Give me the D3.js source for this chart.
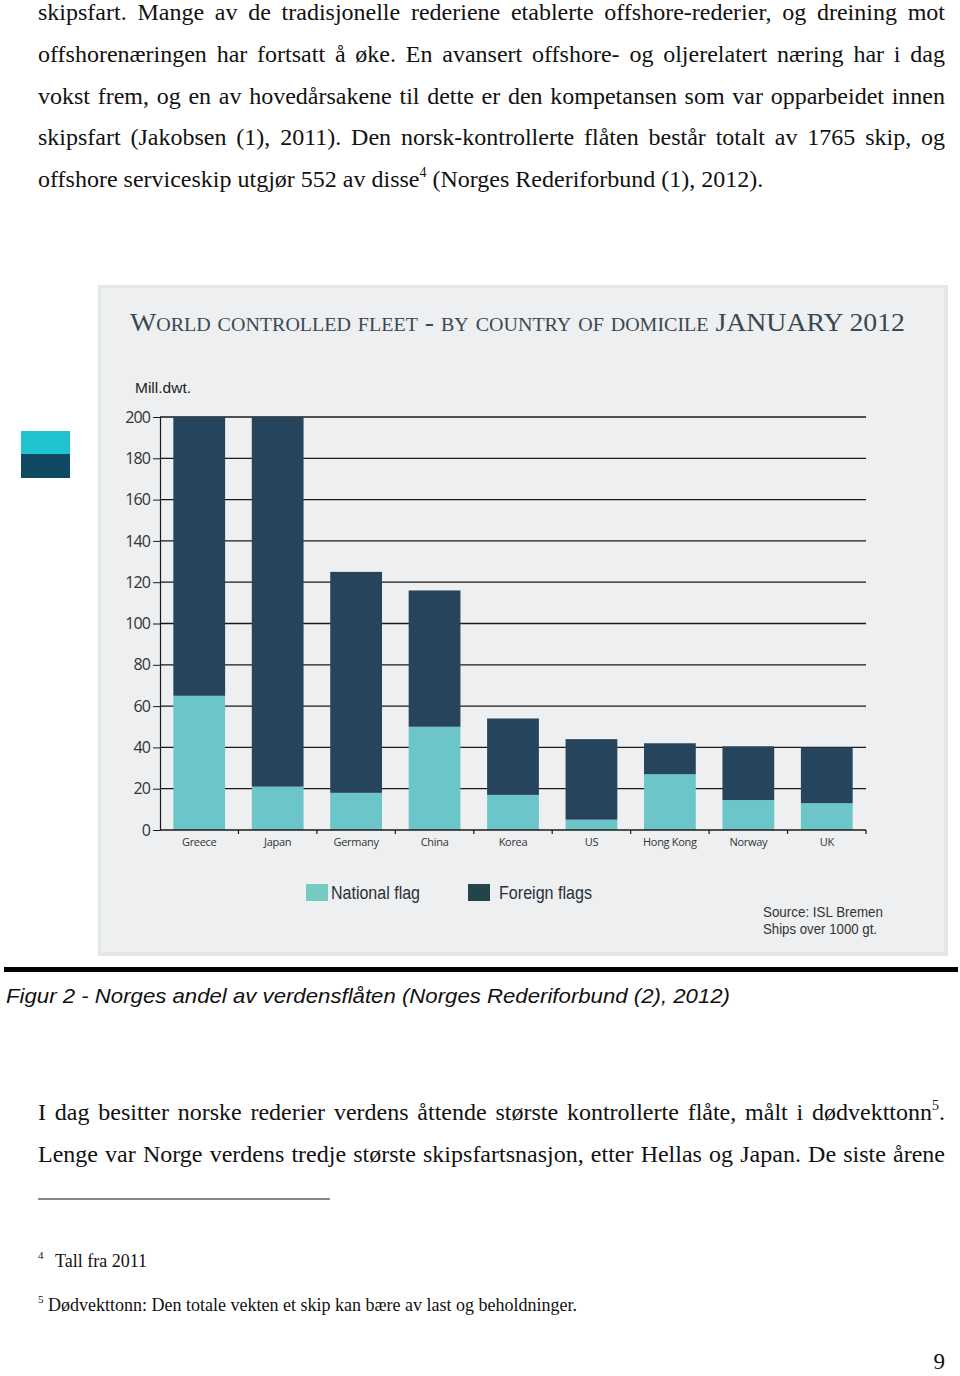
<!DOCTYPE html>
<html>
<head>
<meta charset="utf-8">
<script src="https://cdn.jsdelivr.net/npm/d3@7"></script>
<style>
  body { margin: 0; background: #fff; }
  svg { display: block; }
</style>
</head>
<body>
<div id="page"></div>
<script>
/* global d3 */

// chart values (Mill. dwt)
const countries = ["Greece", "Japan", "Germany", "China", "Korea", "US", "Hong Kong", "Norway", "UK"];
const nationalFlag = [65, 21, 18, 50, 17, 5, 27, 14.5, 13];
const foreignFlags = [135, 179, 107, 66, 37, 39, 15, 26, 27];
const yTicks = [0, 20, 40, 60, 80, 100, 120, 140, 160, 180, 200];
const seriesNames = ["National flag", "Foreign flags"];

const topLines = [
  "skipsfart. Mange av de tradisjonelle rederiene etablerte offshore-rederier, og dreining mot",
  "offshorenæringen har fortsatt å øke. En avansert offshore- og oljerelatert næring har i dag",
  "vokst frem, og en av hovedårsakene til dette er den kompetansen som var opparbeidet innen",
  "skipsfart (Jakobsen (1), 2011). Den norsk-kontrollerte flåten består totalt av 1765 skip, og"
];

const width = 960, height = 1376;
const svg = d3.select("#page").append("svg")
  .attr("width", width)
  .attr("height", height);

const serif = "'Liberation Serif', 'Times New Roman', serif";
const sans = "'Liberation Sans', Arial, sans-serif";
const bodySize = "24px";

// spread the words of a line so it fills the full text width
function justify(sel, w) {
  const node = sel.node();
  const natural = node.getComputedTextLength();
  const spaces = (node.textContent.match(/ /g) || []).length;
  if (spaces > 0) sel.style("word-spacing", ((w - natural) / spaces) + "px");
}

// ---------------- body text above the figure ----------------
topLines.forEach(function(line, i) {
  const t = svg.append("text")
    .attr("x", 38)
    .attr("y", 20 + i * 41.8)
    .style("font-family", serif)
    .style("font-size", bodySize)
    .style("fill", "#111")
    .text(line);
  justify(t, 907);
});

const line5 = svg.append("text")
  .attr("x", 38)
  .attr("y", 187)
  .style("font-family", serif)
  .style("font-size", bodySize)
  .style("fill", "#111");
line5.append("tspan").text("offshore serviceskip utgjør 552 av disse");
line5.append("tspan").attr("dy", -10).style("font-size", "14px").text("4");
line5.append("tspan").attr("dy", 10).text(" (Norges Rederiforbund (1), 2012).");

// ---------------- two stray colour squares at left ----------------
svg.append("rect").attr("x", 21).attr("y", 431).attr("width", 49).attr("height", 23).attr("fill", "#20c3ce");
svg.append("rect").attr("x", 21).attr("y", 454).attr("width", 49).attr("height", 24).attr("fill", "#0e4862");

// ---------------- chart panel ----------------
svg.append("rect")
  .attr("x", 98).attr("y", 285).attr("width", 850).attr("height", 671)
  .attr("fill", "#e4e7e8");
svg.append("rect")
  .attr("x", 101).attr("y", 288).attr("width", 843).attr("height", 664)
  .attr("fill", "#edeff0");

svg.append("text")
  .attr("x", 130)
  .attr("y", 331)
  .attr("textLength", 775)
  .attr("lengthAdjust", "spacingAndGlyphs")
  .style("font-family", serif)
  .style("font-size", "25px")
  .style("font-variant", "small-caps")
  .style("fill", "#3a4853")
  .text("World controlled fleet - by country of domicile JANUARY 2012");

svg.append("text")
  .attr("x", 135)
  .attr("y", 393)
  .attr("textLength", 56)
  .attr("lengthAdjust", "spacingAndGlyphs")
  .style("font-family", sans)
  .style("font-size", "15px")
  .style("fill", "#222")
  .text("Mill.dwt.");

const margin = {left: 160, right: 866, top: 417, bottom: 830};

const x = d3.scaleBand()
  .domain(countries)
  .range([margin.left, margin.right])
  .paddingInner(0.34)
  .paddingOuter(0.17);

const y = d3.scaleLinear()
  .domain([0, 200])
  .range([margin.bottom, margin.top]);

const colors = ["#6cc6c9", "#26445b"];

// gridlines
svg.append("g")
  .selectAll("line")
  .data(yTicks.slice(1))
  .join("line")
  .attr("x1", margin.left)
  .attr("x2", margin.right)
  .attr("y1", d => y(d))
  .attr("y2", d => y(d))
  .attr("stroke", "#1a1a1a")
  .attr("stroke-width", 1.3);

// stacked bars
const table = countries.map((c, i) => ({country: c, national: nationalFlag[i], foreign: foreignFlags[i]}));
const stack = d3.stack().keys(["national", "foreign"]);
const layers = stack(table);

svg.append("g")
  .selectAll("g")
  .data(layers)
  .join("g")
  .attr("fill", (d, i) => colors[i])
  .selectAll("rect")
  .data(d => d)
  .join("rect")
  .attr("x", d => x(d.data.country))
  .attr("width", x.bandwidth())
  .attr("y", d => y(d[1]))
  .attr("height", d => y(d[0]) - y(d[1]));

// y axis
const yAxis = d3.axisLeft(y)
  .tickValues(yTicks)
  .tickSize(7)
  .tickPadding(3);
const yG = svg.append("g")
  .attr("transform", "translate(" + margin.left + ",0)")
  .call(yAxis);
yG.select(".domain").attr("stroke", "#1a1a1a").attr("stroke-width", 1.2);
yG.selectAll(".tick line").attr("stroke", "#1a1a1a");
yG.selectAll(".tick text")
  .style("font-family", "'Open Sans', 'DejaVu Sans', sans-serif")
  .style("font-size", "16px")
  .style("letter-spacing", "-0.9px")
  .style("fill", "#333");

// x axis: baseline with ticks at the band boundaries
const boundaries = d3.range(countries.length + 1).map(i => margin.left + i * (margin.right - margin.left) / countries.length);
svg.append("line")
  .attr("x1", margin.left).attr("x2", margin.right)
  .attr("y1", y(0)).attr("y2", y(0))
  .attr("stroke", "#1a1a1a").attr("stroke-width", 1.4);
svg.append("g")
  .selectAll("line")
  .data(boundaries.slice(1))
  .join("line")
  .attr("x1", d => d).attr("x2", d => d)
  .attr("y1", y(0)).attr("y2", y(0) + 4)
  .attr("stroke", "#1a1a1a").attr("stroke-width", 1.2);

svg.append("g")
  .selectAll("text")
  .data(countries)
  .join("text")
  .attr("x", d => x(d) + x.bandwidth() / 2)
  .attr("y", 846)
  .attr("text-anchor", "middle")
  .style("font-family", "'Open Sans', 'DejaVu Sans', sans-serif")
  .style("font-size", "11px")
  .style("letter-spacing", "-0.3px")
  .style("fill", "#333")
  .text(d => d);

// legend
const legendColors = ["#74c9c1", "#22444a"];
const legendX = [306, 468];
const legendTextLen = [89, 93];
const legend = svg.append("g")
  .selectAll("g")
  .data(seriesNames)
  .join("g")
  .attr("transform", (d, i) => "translate(" + legendX[i] + ",884)");
legend.append("rect")
  .attr("width", 22).attr("height", 17)
  .attr("fill", (d, i) => legendColors[i]);
legend.append("text")
  .attr("x", (d, i) => i === 0 ? 25 : 31)
  .attr("y", 15)
  .attr("textLength", (d, i) => legendTextLen[i])
  .attr("lengthAdjust", "spacingAndGlyphs")
  .style("font-family", sans)
  .style("font-size", "18px")
  .style("fill", "#2a2f3a")
  .text(d => d);

// source note
const source = ["Source: ISL Bremen", "Ships over 1000 gt."];
const sourceLen = [120, 114];
svg.append("g")
  .selectAll("text")
  .data(source)
  .join("text")
  .attr("x", 763)
  .attr("y", (d, i) => 917 + i * 16.5)
  .attr("textLength", (d, i) => sourceLen[i])
  .attr("lengthAdjust", "spacingAndGlyphs")
  .style("font-family", sans)
  .style("font-size", "15px")
  .style("fill", "#333")
  .text(d => d);

// ---------------- caption ----------------
svg.append("rect")
  .attr("x", 4).attr("y", 967).attr("width", 954).attr("height", 5)
  .attr("fill", "#000");

svg.append("text")
  .attr("x", 6)
  .attr("y", 1003)
  .attr("textLength", 724)
  .attr("lengthAdjust", "spacingAndGlyphs")
  .style("font-family", sans)
  .style("font-style", "italic")
  .style("font-size", "21px")
  .style("fill", "#111")
  .text("Figur 2 - Norges andel av verdensflåten (Norges Rederiforbund (2), 2012)");

// ---------------- body text below ----------------
const b1 = svg.append("text")
  .attr("x", 38)
  .attr("y", 1120)
  .style("font-family", serif)
  .style("font-size", bodySize)
  .style("fill", "#111");
b1.append("tspan").text("I dag besitter norske rederier verdens åttende største kontrollerte flåte, målt i dødvekttonn");
b1.append("tspan").attr("dy", -10).style("font-size", "14px").text("5");
b1.append("tspan").attr("dy", 10).text(".");
justify(b1, 907);

const b2 = svg.append("text")
  .attr("x", 38)
  .attr("y", 1162)
  .style("font-family", serif)
  .style("font-size", bodySize)
  .style("fill", "#111")
  .text("Lenge var Norge verdens tredje største skipsfartsnasjon, etter Hellas og Japan. De siste årene");
justify(b2, 907);

svg.append("line")
  .attr("x1", 38).attr("x2", 330)
  .attr("y1", 1199).attr("y2", 1199)
  .attr("stroke", "#111").attr("stroke-width", 1.2);

// footnotes
const f4 = svg.append("text")
  .attr("x", 38).attr("y", 1267)
  .style("font-family", serif).style("font-size", "18px").style("fill", "#111");
f4.append("tspan").attr("dy", -8).style("font-size", "11px").text("4");
f4.append("tspan").attr("x", 55).attr("dy", 8).text("Tall fra 2011");

const f5 = svg.append("text")
  .attr("x", 38).attr("y", 1311)
  .style("font-family", serif).style("font-size", "18px").style("fill", "#111");
f5.append("tspan").attr("dy", -8).style("font-size", "11px").text("5");
f5.append("tspan").attr("x", 48).attr("dy", 8).text("Dødvekttonn: Den totale vekten et skip kan bære av last og beholdninger.");

svg.append("text")
  .attr("x", 945).attr("y", 1369)
  .attr("text-anchor", "end")
  .style("font-family", serif).style("font-size", "23px").style("fill", "#111")
  .text("9");
</script>
</body>
</html>
